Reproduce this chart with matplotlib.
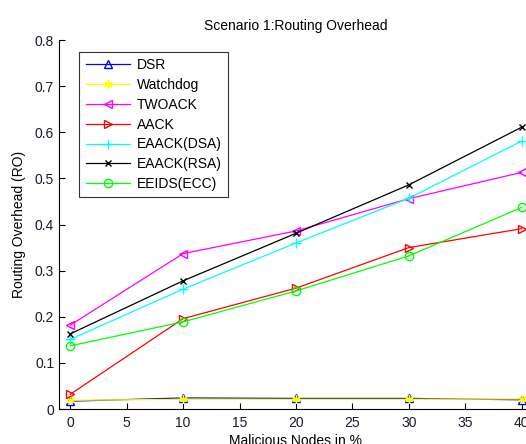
import matplotlib.pyplot as plt

plt.rcParams["font.family"] = ["Liberation Sans", "DejaVu Sans"]

# malicious nodes in %
nodes = [0, 10, 20, 30, 40]

dsr = [0.017, 0.024, 0.023, 0.023, 0.020]
watchdog = [0.019, 0.021, 0.021, 0.021, 0.022]
twoack = [0.182, 0.337, 0.386, 0.456, 0.513]
aack = [0.032, 0.196, 0.262, 0.350, 0.391]
eaack_dsa = [0.151, 0.260, 0.360, 0.457, 0.581]
eaack_rsa = [0.163, 0.278, 0.381, 0.486, 0.611]
eeids_ecc = [0.137, 0.189, 0.256, 0.332, 0.437]

fig = plt.figure(figsize=(5.26, 4.44), dpi=100)
ax = fig.add_axes([0.1122, 0.0788, 0.901, 0.831])

ax.plot(nodes, dsr, color="blue", marker="^", mfc="none", ms=6, lw=0.9, label="DSR")
ax.plot(nodes, watchdog, color="yellow", marker=(6, 2, 0), ms=6, lw=0.9, label="Watchdog")
ax.plot(nodes, twoack, color="magenta", marker="<", mfc="none", ms=6, lw=0.9, label="TWOACK")
ax.plot(nodes, aack, color="red", marker=">", mfc="none", ms=6, lw=0.9, label="AACK")
ax.plot(nodes, eaack_dsa, color="cyan", marker="+", ms=7, lw=0.9, label="EAACK(DSA)")
ax.plot(nodes, eaack_rsa, color="black", marker="x", ms=4, lw=0.9, label="EAACK(RSA)")
ax.plot(nodes, eeids_ecc, color="#00ff00", marker="o", mfc="none", ms=6, lw=0.9, label="EEIDS(ECC)")

ax.set_xlim(-1, 41)
ax.set_ylim(0, 0.8)
ax.set_xticks(range(0, 45, 5))
ax.set_yticks([0, 0.1, 0.2, 0.3, 0.4, 0.5, 0.6, 0.7, 0.8])
ax.set_yticklabels(["0", "0.1", "0.2", "0.3", "0.4", "0.5", "0.6", "0.7", "0.8"])
ax.tick_params(direction="in", length=4, labelsize=10, colors="black", labelcolor="#1a1a2e")
ax.tick_params(axis="x", pad=5)
ax.spines["top"].set_visible(False)
ax.spines["right"].set_visible(False)

ax.set_title("Scenario 1:Routing Overhead", fontsize=10, pad=7.5)
ax.set_xlabel("Malicious Nodes in %", fontsize=10, labelpad=3)
ax.set_ylabel("Routing Overhead (RO)", fontsize=10, labelpad=6)

leg = ax.legend(loc="upper left", bbox_to_anchor=(0.043, 0.968), fontsize=10,
                handlelength=3.2, frameon=True, fancybox=False, edgecolor="black",
                borderpad=0.45, labelspacing=0.42, handletextpad=0.5, borderaxespad=0)
leg.get_frame().set_linewidth(0.8)

fig.savefig("out.png", dpi=100)
